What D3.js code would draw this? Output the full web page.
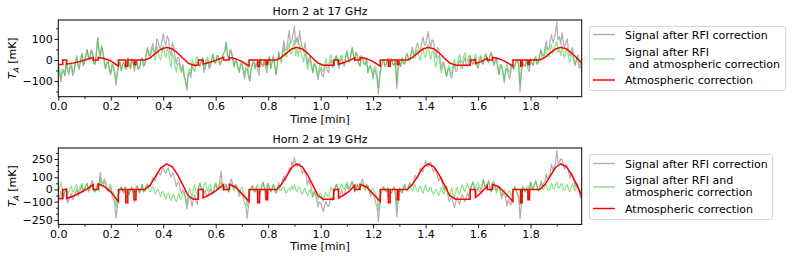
<!DOCTYPE html>
<html><head><meta charset="utf-8">
<script src="https://cdn.jsdelivr.net/npm/d3@7"></script>
<style>body{margin:0;background:#fff} svg text{font-family:'DejaVu Sans',sans-serif}</style>
</head><body>
<svg id="c" width="792" height="262"></svg>
<script>
// ---- sampling grid of the signals (minutes) ----
const tStart = 0, tStep = 0.005;
// ---- Horn 2, 17 GHz ----
const gray17 = [
 -30,-67,-105,-62,-50,-75,-10,-54,-70,-37,-30,-75,-60,-18,10,-30,-45,-1,30,-28,
 -10,21,50,15,5,49,40,-15,-20,30,105,51,20,69,40,-3,-40,-13,-10,-48,
 -70,-24,-40,-73,-120,-77,-30,-10,-50,-25,-10,-40,-45,10,-20,-40,5,-15,-55,-22,
 -10,-45,-35,0,10,-30,-20,27,60,27,20,55,80,45,30,100,90,60,50,92,
 125,87,70,115,100,46,20,82,60,13,-20,13,10,-30,-50,-22,-80,-103,-145,-75,
 -60,-85,-20,-45,-55,-20,-10,-20,-30,-5,10,-59,-40,-11,0,-42,-30,2,25,-14,
 -15,21,20,-20,-10,20,30,45,85,20,10,51,40,8,-30,1,-10,-40,-60,-20,
 -20,-57,-90,-50,-40,-83,-100,-45,-20,-5,-40,-15,-50,-75,5,-20,-30,0,-40,-62,
 0,15,-40,-10,20,-30,-70,-18,40,9,0,47,90,47,50,92,140,77,90,125,
 160,79,110,74,140,84,60,38,80,38,-20,7,20,-21,-60,-18,-30,-59,-95,-54,
 -40,-73,-80,-45,-20,-50,-60,-15,0,-35,-30,5,20,-15,-40,-7,10,-19,-30,5,
 40,5,-10,25,60,26,0,35,20,-15,-30,21,10,-11,-20,11,-60,-34,-30,-55,
 -90,-42,-60,-90,-160,-88,-40,-10,0,-30,-20,5,-20,-15,5,-20,-25,0,-135,-52,
 -10,-30,10,-15,-20,15,30,3,0,34,60,27,30,67,80,52,40,82,110,75,
 70,104,135,84,60,95,90,39,10,60,50,5,-40,-13,-10,-50,-80,-47,-40,-77,
 -85,-41,-20,-55,-50,-15,0,-35,-40,-10,10,-25,-30,-5,20,-10,-20,5,10,-30,
 -40,-5,15,-15,-20,16,30,-5,-10,20,35,11,-20,-1,10,-33,-70,-23,-30,-63,
 -110,-54,-40,-67,-90,-55,-20,-45,-30,-5,0,-30,-150,-65,-10,-25,-30,0,-40,-57,
 5,-15,-25,0,15,-20,-10,26,50,22,20,57,90,52,50,92,120,82,100,126,
 180,95,110,76,130,83,60,83,100,40,20,42,60,1,-20,-3,20,-39,-30,-44];
const green17 = [
 -8,-45,-83,-40,-50,-75,-10,-35,-52,-20,-13,-60,-45,-5,22,-20,-36,5,35,-25,
 -8,20,48,10,-1,40,29,-15,-20,30,105,40,9,60,32,-10,-44,-15,-8,-45,
 -61,-15,-24,-55,-95,-50,-30,-10,-50,-25,-10,-40,-15,10,-20,-40,5,-15,-33,0,
 -10,-45,-35,0,10,-30,-20,25,55,20,8,40,58,20,-2,65,47,15,-2,40,
 68,30,10,55,42,-10,-35,30,13,-30,-58,-20,-15,-50,-62,-30,-80,-100,-133,-60,
 -40,-65,5,-20,-30,5,15,-20,-30,-5,10,-40,-22,5,14,-30,-20,10,30,-10,
 -15,20,16,-25,-18,10,30,45,85,20,10,40,30,0,-36,-5,-10,-40,-52,-15,
 -4,-45,-68,-30,-12,-55,-100,-45,-20,-5,-40,-15,-20,-45,5,-20,-30,0,-18,-40,
 0,15,-40,-10,20,-30,-70,-20,32,0,-16,30,63,20,12,55,80,30,34,70,
 95,20,51,15,75,30,13,-10,43,0,-45,-20,8,-35,-60,-20,-18,-50,-75,-35,
 -15,-50,-55,-20,5,-25,-35,10,25,-10,-30,5,20,-15,-20,10,25,-5,-20,15,
 45,10,-10,25,55,20,0,35,20,-15,-30,10,0,-20,-26,5,-60,-35,-24,-50,
 -76,-30,-38,-70,-132,-60,-40,-10,0,-30,-20,5,10,-15,5,-20,-25,0,-113,-30,
 -10,-30,10,-15,-20,15,30,0,-5,25,48,10,8,40,48,15,-2,35,58,20,
 12,45,75,25,2,40,37,-10,-35,20,15,-25,-63,-30,-20,-55,-78,-40,-28,-60,
 -65,-20,5,-30,-25,10,25,-10,-15,15,35,0,-5,20,20,-10,-20,5,28,-15,
 -28,5,21,-10,-20,15,24,-5,-10,20,35,0,-30,-10,4,-40,-70,-25,-22,-60,
 -94,-45,-18,-50,-62,-30,-20,-45,-30,-5,0,-30,-120,-35,-10,-25,-30,0,-18,-35,
 5,-15,-25,0,15,-20,-10,20,44,10,6,35,65,20,14,50,73,30,45,70,
 90,35,50,20,73,30,10,40,58,5,-12,20,40,-10,-28,0,24,-25,-16,-30];
// ---- Horn 2, 19 GHz ----
const gray19 = [
 -105,-55,-15,-85,-60,-20,10,-112,-90,-52,-30,-86,-60,-28,0,-57,-30,5,32,-23,
 4,29,51,-8,15,48,73,-10,-20,10,40,27,140,61,48,85,62,0,-18,15,
 10,-60,-75,-122,-235,-142,-40,0,20,-10,-30,20,-100,-20,-40,-5,20,-30,-105,-75,
 30,0,-30,10,40,-20,-10,29,45,26,20,62,95,77,70,112,145,127,120,164,
 180,150,130,169,175,126,100,135,120,72,25,60,55,-3,-30,-5,-20,-78,-160,-90,
 -55,-86,-140,-80,-40,-100,-120,20,50,10,0,-37,-5,-46,-60,-15,5,-42,-38,2,
 50,7,15,55,150,51,-10,20,40,0,-20,59,85,40,10,40,30,-12,-55,-25,
 -30,-68,-115,-132,-240,-133,-20,10,30,-10,-20,20,-70,-110,-30,20,60,20,-85,-55,
 50,10,-20,10,40,0,-30,6,55,18,45,77,110,72,100,127,175,152,230,195,
 260,205,188,210,215,170,125,160,140,108,35,83,40,17,-60,-16,-50,-79,-145,-100,
 -110,-142,-180,-130,-100,-130,-140,-100,-60,-90,-30,10,40,10,-80,-42,-2,-40,-35,-7,
 42,0,10,36,68,34,-20,10,40,10,0,68,85,39,10,40,30,-12,-55,-25,
 -40,-65,-115,-140,-265,-145,-30,0,20,-10,-20,10,-100,-20,-30,0,20,-40,-225,-105,
 10,-10,-30,10,40,0,-10,30,55,30,30,77,115,92,90,137,175,152,145,190,
 238,195,190,215,225,173,145,167,155,115,70,90,100,45,-5,22,25,-50,-100,-75,
 -55,-107,-150,-100,-60,-100,-120,-70,-40,-80,-100,-60,-30,-70,0,30,60,20,-50,-16,
 20,-19,-20,20,80,37,30,40,70,20,-20,52,65,30,-10,22,20,-20,-75,-32,
 -50,-66,-135,-85,-105,-130,-50,-10,20,-10,-40,-60,-240,-130,20,0,-20,10,-55,-85,
 60,20,0,40,70,20,-10,20,70,30,50,70,125,75,115,130,210,155,190,210,
 320,215,220,250,248,198,165,208,185,153,90,140,120,88,20,55,25,-10,-70,-45];
const green19 = [
 -30,20,60,-10,-60,-20,10,-40,-20,10,30,-30,-10,20,40,-20,0,30,50,-10,
 10,30,45,-20,-5,20,35,-10,-20,10,40,-15,100,30,20,60,50,0,-10,30,
 40,-30,-20,-60,-150,-50,-40,0,20,-10,-30,20,10,-20,-40,-5,20,-30,-20,10,
 30,0,-30,10,40,-20,-10,20,30,0,-20,10,20,-10,-40,-10,0,-30,-60,-20,
 -20,-50,-80,-40,-30,-70,-90,-50,-40,-80,-100,-60,-30,-80,-70,-40,-20,-70,-120,-40,
 10,-20,-60,0,40,-20,-40,20,50,10,0,30,60,10,-10,30,40,-10,-20,20,
 50,10,0,40,60,20,-10,20,40,0,-20,20,50,10,-10,20,30,-10,-30,0,
 20,-20,-40,-60,-140,-40,-20,10,30,-10,-20,20,40,0,-30,20,60,20,0,30,
 50,10,-20,10,40,0,-30,0,30,-10,-10,20,20,-20,-30,0,10,-10,30,0,
 40,0,-20,10,20,-20,-40,-10,10,-30,-50,-20,0,-40,-60,-30,-10,-50,-80,-40,
 -30,-70,-100,-50,-20,-50,-60,-20,20,-10,-30,10,40,10,-10,20,50,10,0,30,
 60,20,10,40,50,10,-20,10,40,10,0,30,50,10,-10,20,30,-10,-30,0,
 10,-20,-40,-70,-170,-50,-30,0,20,-10,-20,10,10,-20,-30,0,20,-40,-140,-20,
 10,-10,-30,10,40,0,-10,20,40,0,-10,20,40,0,-20,10,30,-10,-30,0,
 40,-10,-20,10,20,-20,-40,-10,0,-30,-50,-20,20,-20,-40,0,30,-30,-60,-20,
 10,-40,-70,-20,20,-20,-40,10,40,0,-20,20,50,10,0,30,60,20,10,40,
 60,20,0,40,80,30,10,40,70,20,-20,10,30,0,-30,0,20,-20,-50,-10,
 0,-30,-60,-20,-10,-40,-50,-10,20,-10,-40,-60,-130,-20,20,0,-20,10,30,0,
 60,20,0,40,70,20,-10,20,50,10,0,30,40,0,-10,20,50,10,0,30,
 60,20,10,40,50,0,-10,20,40,0,-20,20,50,10,-10,20,40,0,-20,10];
// ---- atmospheric correction (breakpoints) ----
const redT = [0,0.017,0.017,0.032,0.032,0.06,0.085,0.11,0.133,0.133,0.152,0.152,0.175,0.2,0.229,0.229,0.257,0.257,0.265,0.265,0.289,0.289,0.296,0.296,0.33,
 0.35,0.37,0.39,0.413,0.435,0.455,0.475,0.495,0.515,0.534,0.534,0.552,0.552,0.575,0.6,0.63,0.63,0.652,0.652,0.675,0.7,0.727,0.727,0.76,0.76,0.767,0.767,0.792,0.792,0.798,0.798,0.832,
 0.85,0.87,0.89,0.908,0.93,0.95,0.97,0.99,1.01,1.05,1.05,1.068,1.068,1.09,1.11,1.13,1.13,1.15,1.15,1.175,1.2,1.227,1.227,1.258,1.258,1.265,1.265,1.292,1.292,1.298,1.298,1.33,
 1.35,1.37,1.39,1.41,1.432,1.452,1.472,1.492,1.515,1.57,1.57,1.59,1.59,1.61,1.635,1.635,1.655,1.655,1.68,1.705,1.733,1.733,1.762,1.762,1.768,1.768,1.79,1.79,1.796,1.796,1.835,
 1.855,1.875,1.895,1.915,1.937,1.957,1.977,1.995];
const red17 = [-22,-22,0,0,-20,-14,-6,3,12,0,0,12,7,-5,-30,0,0,-30,-30,0,0,-22,-22,0,0,
 10,30,50,60,52,33,8,-15,-25,-25,0,0,-20,-12,-2,12,0,0,12,6,-8,-30,0,0,-30,-30,0,0,-22,-22,0,0,
 12,32,52,60,52,33,8,-15,-25,-25,0,0,-20,-12,-2,10,0,0,12,6,-8,-30,0,0,-30,-30,0,0,-22,-22,0,0,
 12,32,52,60,52,33,8,-15,-25,-25,0,0,-18,-8,8,0,0,12,6,-8,-30,0,0,-30,-30,0,0,-22,-22,0,0,
 12,32,52,60,52,33,8,-14];
const red19 = [-75,-75,0,0,-75,-52,-25,5,40,0,0,45,25,-20,-100,0,0,-110,-110,0,0,-85,-85,0,0,
 35,105,175,210,185,120,35,-50,-80,-80,0,0,-70,-45,-12,40,0,0,42,20,-35,-100,0,0,-110,-110,0,0,-85,-85,0,0,
 40,110,180,210,185,120,35,-50,-80,-80,0,0,-70,-45,-12,35,0,0,42,20,-35,-100,0,0,-110,-110,0,0,-85,-85,0,0,
 40,110,180,210,185,120,35,-50,-80,-80,0,0,-65,-30,30,0,0,42,20,-35,-100,0,0,-110,-110,0,0,-85,-85,0,0,
 40,110,180,210,185,120,35,-55];
// ---- axes & text ----
const xTicks = [0,0.2,0.4,0.6,0.8,1.0,1.2,1.4,1.6,1.8];
const xMinor = [0.1,0.3,0.5,0.7,0.9,1.1,1.3,1.5,1.7,1.9];
const yTicks17 = [-100,0,100], yMinor17 = [-150,-50,50,150];
const yTicks19 = [-250,-100,0,100,250], yMinor19 = [-200,-150,-50,50,150,200,300];
const titles = ['Horn 2 at 17 GHz','Horn 2 at 19 GHz'];
const legend17 = [['Signal after RFI correction'],['Signal after RFI',' and atmospheric correction'],['Atmospheric correction']];
const legend19 = [['Signal after RFI correction'],['Signal after RFI and','atmospheric correction'],['Atmospheric correction']];

const svg = d3.select('#c');
const FS = 11;
const x = d3.scaleLinear().domain([0,1.995]).range([58.3,581.7]);
const colors = {gray:'#808080', green:'#32cd32', red:'#ff0000'};
const alphas = {gray:0.62, green:0.55};

const panels = [
 {top:20, bottom:96.7, ydom:[-175,190], yt:yTicks17, ym:yMinor17, gray:gray17, green:green17, red:red17,
  title:titles[0], leg:legend17, box:{x:589.5,y:26.5,w:196,h:64}, ly:[34.5,59,80], lty:[[38.5],[55.5,68],[84]]},
 {top:148, bottom:224.4, ydom:[-287,340], yt:yTicks19, ym:yMinor19, gray:gray19, green:green19, red:red19,
  title:titles[1], leg:legend19, box:{x:589.5,y:154.5,w:183,h:65}, ly:[163.5,187,208.5], lty:[[167.5],[183.5,196],[212.5]]}
];

panels.forEach((p,pi)=>{
  const y = d3.scaleLinear().domain(p.ydom).range([p.bottom,p.top]);
  const g = svg.append('g');
  const cid = 'clip'+pi;
  svg.append('clipPath').attr('id',cid).append('rect')
    .attr('x',x.range()[0]).attr('y',p.top).attr('width',x.range()[1]-x.range()[0]).attr('height',p.bottom-p.top);
  const line = d3.line().x(d=>x(d[0])).y(d=>y(d[1]));
  const grayPts = p.gray.map((v,i)=>[tStart+i*tStep,v]);
  const greenPts = p.green.map((v,i)=>[tStart+i*tStep,v]);
  const redPts = redT.map((t,i)=>[t,p.red[i]]);
  const plot = g.append('g').attr('clip-path',`url(#${cid})`);
  plot.append('path').attr('d',line(grayPts)).attr('fill','none').attr('stroke',colors.gray).attr('stroke-opacity',alphas.gray).attr('stroke-width',1.2).attr('stroke-linejoin','round');
  plot.append('path').attr('d',line(greenPts)).attr('fill','none').attr('stroke',colors.green).attr('stroke-opacity',alphas.green).attr('stroke-width',1.2).attr('stroke-linejoin','round');
  plot.append('path').attr('d',line(redPts)).attr('fill','none').attr('stroke',colors.red).attr('stroke-width',1.5).attr('stroke-linejoin','miter');

  const xa = g.append('g').attr('transform',`translate(0,${p.bottom})`)
    .call(d3.axisBottom(x).tickValues(xTicks).tickSize(3.9).tickPadding(1.8).tickFormat(d3.format('.1f')));
  const xm = g.append('g').attr('transform',`translate(0,${p.bottom})`)
    .call(d3.axisBottom(x).tickValues(xMinor).tickSize(2.2).tickFormat(''));
  const ya = g.append('g').attr('transform',`translate(${x.range()[0]},0)`)
    .call(d3.axisLeft(y).tickValues(p.yt).tickSize(3.9).tickPadding(1.6).tickFormat(d3.format('d')));
  const ym = g.append('g').attr('transform',`translate(${x.range()[0]},0)`)
    .call(d3.axisLeft(y).tickValues(p.ym).tickSize(2.2).tickFormat(''));
  [xa,xm,ya,ym].forEach(a=>{
    a.select('.domain').remove();
    a.attr('font-size',FS).attr('font-family','DejaVu Sans');
    a.selectAll('line').attr('stroke','#000').attr('stroke-width',0.9);
    a.selectAll('text').attr('fill','#000');
  });
  g.append('rect').attr('x',x.range()[0]).attr('y',p.top).attr('width',x.range()[1]-x.range()[0]).attr('height',p.bottom-p.top)
    .attr('fill','none').attr('stroke','#000').attr('stroke-width',1);

  g.append('text').attr('x',(x.range()[0]+x.range()[1])/2).attr('y',p.top-5.5).attr('text-anchor','middle').attr('font-size',FS).text(p.title);
  g.append('text').attr('x',(x.range()[0]+x.range()[1])/2).attr('y',p.bottom+25.8).attr('text-anchor','middle').attr('font-size',FS).text('Time [min]');
  const yl = g.append('text').attr('transform',`translate(16,${(p.top+p.bottom)/2}) rotate(-90)`).attr('text-anchor','middle').attr('font-size',FS);
  yl.append('tspan').attr('font-style','italic').text('T');
  yl.append('tspan').attr('font-style','italic').attr('font-size',FS*0.7).attr('dy',2.5).text('A');
  yl.append('tspan').attr('dy',-2.5).text(' [mK]');

  const b = p.box;
  g.append('rect').attr('x',b.x).attr('y',b.y).attr('width',b.w).attr('height',b.h).attr('rx',2)
    .attr('fill','#fff').attr('fill-opacity',0.8).attr('stroke','#d6d6d6').attr('stroke-width',1);
  const lc = [colors.gray, colors.green, colors.red];
  const lo = [alphas.gray, alphas.green, 1];
  p.leg.forEach((lines,k)=>{
    g.append('line').attr('x1',593).attr('x2',615).attr('y1',p.ly[k]).attr('y2',p.ly[k])
      .attr('stroke',lc[k]).attr('stroke-opacity',lo[k]).attr('stroke-width',1.5);
    lines.forEach((s,j)=>{
      g.append('text').attr('x',625).attr('y',p.lty[k][j]).attr('font-size',FS).style('white-space','pre').text(s);
    });
  });
});
</script>
</body></html>
